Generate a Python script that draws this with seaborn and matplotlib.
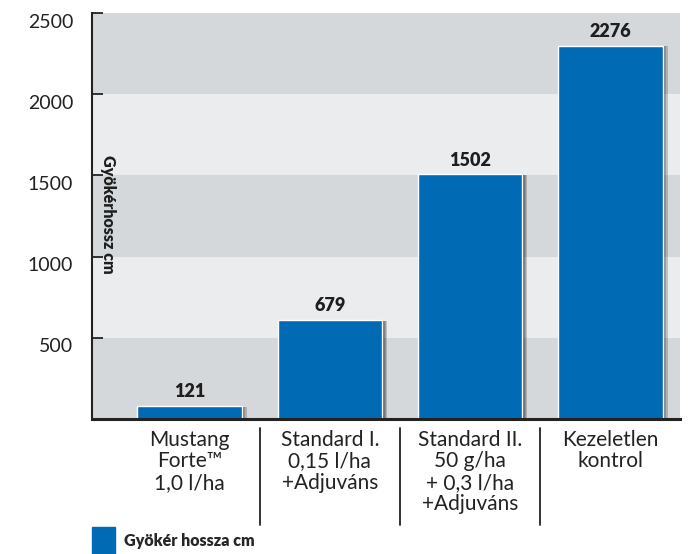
import seaborn as sns
import matplotlib
matplotlib.use("Agg")
import matplotlib.pyplot as plt
import matplotlib.patheffects as pe
import matplotlib.transforms as mtrans
import pandas as pd

# data
categories = ["Mustang\nForte\u2122\n1,0 l/ha",
              "Standard I.\n0,15 l/ha\n+Adjuváns",
              "Standard II.\n50 g/ha\n+ 0,3 l/ha\n+Adjuváns",
              "Kezeletlen\nkontrol"]
bar_heights = [82, 610, 1507, 2299]      # as drawn
value_labels = [121, 679, 1502, 2276]    # as printed
yticks = [500, 1000, 1500, 2000, 2500]
series_name = "Gyökér hossza cm"

blue = "#006bb4"
band_dark = "#d5d8db"
band_light = "#ebecee"
ink = "#222222"

sns.set_theme(style="white")
plt.rcParams["font.family"] = ["Lato", "DejaVu Sans"]

fig = plt.figure(figsize=(6.98, 5.54), dpi=100)
ax = fig.add_axes([92 / 698, 1 - 419 / 554, 588 / 698, 406 / 554])

# alternating background bands
for i, lo in enumerate(range(0, 2500, 500)):
    ax.axhspan(lo, lo + 500, color=band_dark if i % 2 == 0 else band_light, zorder=0, lw=0)

df = pd.DataFrame({"kat": categories, "hossz": bar_heights})
sns.barplot(data=df, x="kat", y="hossz", color=blue, saturation=1, width=0.745,
            edgecolor="white", linewidth=1, label=series_name, ax=ax, zorder=3)
ax.grid(False)

# soft drop shadow on the right side of the bars
shadow = [pe.SimplePatchShadow(offset=(k, -0.6), shadow_rgbFace="#111111", alpha=0.2)
          for k in (3.4, 2.6, 1.8, 1.0)]
for p in ax.containers[0]:
    p.set_path_effects(shadow + [pe.Normal()])

ax.bar_label(ax.containers[0], labels=[str(v) for v in value_labels], padding=4,
             fontsize=13, fontweight="heavy", color="#1e1e1e")

ax.set_xlim(-0.695, 3.495)
ax.set_ylim(0, 2500)
ax.set_yticks(yticks)
ax.set_yticklabels([])
ax.tick_params(axis="y", direction="in", length=8, width=1.3, color=ink, left=True)
# y tick labels sit a little below their ticks
ylab_tr = mtrans.blended_transform_factory(ax.transAxes, ax.transData) + \
    mtrans.ScaledTranslation(0, -0.09, fig.dpi_scale_trans)
for t in yticks:
    ax.text(-0.032, t, str(t), transform=ylab_tr, ha="right", va="center",
            fontsize=14, color=ink)

ax.tick_params(axis="x", length=0, pad=8)
for lab in ax.get_xticklabels():
    lab.set_fontsize(15)
    lab.set_color(ink)
    lab.set_linespacing(1.08)

ax.set_xlabel("")
ax.set_ylabel("")
for s in ["top", "right"]:
    ax.spines[s].set_visible(False)
ax.spines["left"].set_color(ink)
ax.spines["left"].set_linewidth(1.5)
ax.spines["bottom"].set_color(ink)
ax.spines["bottom"].set_linewidth(2.2)
ax.spines["left"].set_zorder(5)
ax.spines["bottom"].set_zorder(5)

# axis title inside the plot
ax.text(0.027, 0.505, "Gyökérhossz cm", transform=ax.transAxes, rotation=-90,
        ha="center", va="center", fontsize=11.5, fontweight="heavy", color="#1e1e1e", zorder=6)

# separators between category labels
trans = mtrans.blended_transform_factory(ax.transData, ax.transAxes)
for xs in [0.5, 1.5, 2.5]:
    ax.plot([xs, xs], [-0.022, -0.261], transform=trans, color=ink, lw=1.3, clip_on=False)

leg = ax.legend(loc="lower left", bbox_to_anchor=(92 / 698, 0), bbox_transform=fig.transFigure,
                frameon=False, prop={"weight": "heavy", "size": 11.5},
                handlelength=1.44, handleheight=2.2, handletextpad=0.55, borderpad=0, borderaxespad=0)
for h in leg.legend_handles:
    h.set_path_effects([])
    h.set_edgecolor(blue)

fig.savefig("out.png", dpi=100)
